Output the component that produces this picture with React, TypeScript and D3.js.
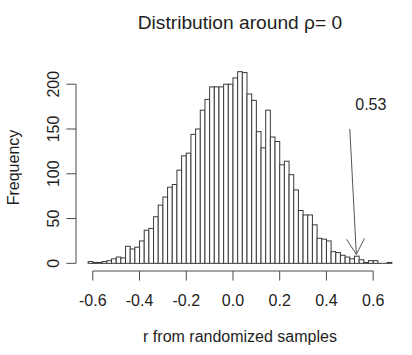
import React from "react";
import * as d3 from "d3";

// ---- data ----
const binStart = -0.62;
const binWidth = 0.02;
const counts = [
  2, 1, 1, 2, 3, 5, 7, 6, 19, 16, 18, 25, 37, 39, 52, 65, 74, 85, 88, 104,
  120, 123, 144, 150, 171, 183, 197, 197, 197, 200, 200, 207, 214, 213, 189,
  182, 147, 129, 171, 141, 136, 110, 114, 99, 82, 59, 54, 54, 43, 28, 27, 25,
  13, 12, 9, 7, 5, 8, 4, 1, 3, 3, 0, 0, 1,
];
const xTicks = [-0.6, -0.4, -0.2, 0.0, 0.2, 0.4, 0.6];
const yTicks = [0, 50, 100, 150, 200];
const title = "Distribution around \u03c1= 0";
const xTitle = "r from randomized samples";
const yTitle = "Frequency";
const annotationText = "0.53";
const arrowFrom = [0.5, 150];
const arrowTo = [0.528, 10];
const annotationPos = [0.59, 177];

const W = 412;
const H = 355;
const plot = { left: 76, right: 404, top: 64, bottom: 271 };
const FONT = "'Liberation Sans', Arial, Helvetica, sans-serif";
const LINE = 19.2;

export default function App() {
  const bins = counts.map((c, i) => ({
    x0: binStart + i * binWidth,
    x1: binStart + (i + 1) * binWidth,
    c,
  }));
  const xMin = bins[0].x0;
  const xMax = bins[bins.length - 1].x1;
  const xPad = (xMax - xMin) * 0.04;
  const yMax = d3.max(counts) as number;
  const yPad = yMax * 0.04;
  const x = d3.scaleLinear().domain([xMin - xPad, xMax + xPad]).range([plot.left, plot.right]);
  const y = d3.scaleLinear().domain([-yPad, yMax + yPad]).range([plot.bottom, plot.top]);

  const axisColor = "#4a4a4a";
  const textColor = "#1e1e1e";

  // arrow geometry
  const ax0 = x(arrowFrom[0]), ay0 = y(arrowFrom[1]);
  const ax1 = x(arrowTo[0]), ay1 = y(arrowTo[1]);
  const ang = Math.atan2(ay1 - ay0, ax1 - ax0);
  const headLen = 18;
  const headAng = Math.PI / 6;
  const h1 = [ax1 - headLen * Math.cos(ang - headAng), ay1 - headLen * Math.sin(ang - headAng)];
  const h2 = [ax1 - headLen * Math.cos(ang + headAng), ay1 - headLen * Math.sin(ang + headAng)];

  const cx = (plot.left + plot.right) / 2;

  return (
    <svg
      width={W}
      height={H}
      style={{ position: "absolute", left: 0, top: 0, background: "#fff" }}
      fontFamily={FONT}
    >
      <rect x={0} y={0} width={W} height={H} fill="#fff" />
      {/* bars */}
      <g stroke="#3a3a3a" strokeWidth={1} fill="#fff">
        {bins.map((b, i) =>
          b.c > 0 ? (
            <rect
              key={i}
              x={x(b.x0)}
              y={y(b.c)}
              width={x(b.x1) - x(b.x0)}
              height={y(0) - y(b.c)}
            />
          ) : (
            <line key={i} x1={x(b.x0)} x2={x(b.x1)} y1={y(0)} y2={y(0)} />
          )
        )}
      </g>

      {/* x axis */}
      <g stroke={axisColor} strokeWidth={1}>
        <line x1={x(xTicks[0])} x2={x(xTicks[xTicks.length - 1])} y1={plot.bottom} y2={plot.bottom} />
        {xTicks.map((t) => (
          <line key={t} x1={x(t)} x2={x(t)} y1={plot.bottom} y2={plot.bottom + LINE / 2} />
        ))}
      </g>
      <g fill={textColor} fontSize={16} textAnchor="middle">
        {xTicks.map((t) => (
          <text key={t} x={x(t)} y={306}>
            {d3.format(".1f")(t).replace("\u2212", "-")}
          </text>
        ))}
      </g>

      {/* y axis */}
      <g stroke={axisColor} strokeWidth={1}>
        <line x1={plot.left} x2={plot.left} y1={y(yTicks[0])} y2={y(yTicks[yTicks.length - 1])} />
        {yTicks.map((t) => (
          <line key={t} x1={plot.left - LINE / 2} x2={plot.left} y1={y(t)} y2={y(t)} />
        ))}
      </g>
      <g fill={textColor} fontSize={16} textAnchor="middle">
        {yTicks.map((t) => (
          <text key={t} transform={`translate(${plot.left - LINE + 2},${y(t)}) rotate(-90)`}>
            {t}
          </text>
        ))}
      </g>

      {/* titles */}
      <text x={cx} y={29} textAnchor="middle" fontSize={19.2} fill={textColor}>
        {title}
      </text>
      <text x={cx} y={342} textAnchor="middle" fontSize={16} fill={textColor}>
        {xTitle}
      </text>
      <text
        transform={`translate(${plot.left - 3 * LINE + 1},${(plot.top + plot.bottom) / 2}) rotate(-90)`}
        textAnchor="middle"
        fontSize={16}
        fill={textColor}
      >
        {yTitle}
      </text>

      {/* annotation */}
      <g stroke="#555" strokeWidth={1} fill="none">
        <line x1={ax0} y1={ay0} x2={ax1} y2={ay1} />
        <polyline points={`${h1[0]},${h1[1]} ${ax1},${ay1} ${h2[0]},${h2[1]}`} />
      </g>
      <text
        x={x(annotationPos[0])}
        y={y(annotationPos[1])}
        dy="0.35em"
        textAnchor="middle"
        fontSize={16}
        fill={textColor}
      >
        {annotationText}
      </text>
    </svg>
  );
}
